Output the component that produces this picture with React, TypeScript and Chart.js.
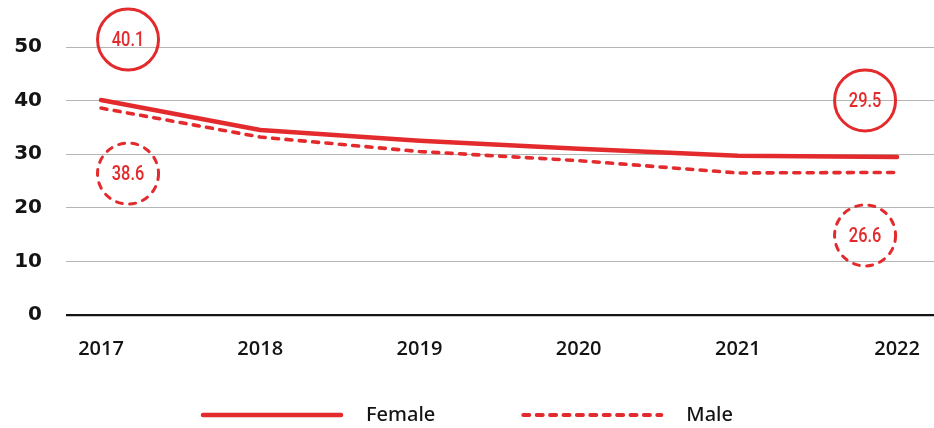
import React, { useEffect, useRef } from "react";
import { Chart, registerables } from "chart.js";

Chart.register(...registerables);

// Share of population (%), by sex
const years = [2017, 2018, 2019, 2020, 2021, 2022];
const femaleRates = [40.1, 34.5, 32.5, 31.0, 29.7, 29.5];
const maleRates = [38.6, 33.2, 30.5, 28.8, 26.5, 26.6];
const yTickValues = [0, 10, 20, 30, 40, 50];
const seriesNames = ["Female", "Male"];

const RED = "#e32b2d";
const INK = "#141414";
const GRID = "#b4b4b4";

const CIRCLE_FONT = "500 21px 'Roboto', 'Noto Sans', sans-serif";
const LEGEND_FONT = "500 20px 'Noto Sans', sans-serif";

// value bubbles next to the first and last point of each series
const bubblePlugin = {
  id: "endBubbles",
  afterDatasetsDraw(chart: any) {
    const ctx = chart.ctx as CanvasRenderingContext2D;
    chart.data.datasets.forEach((ds: any, i: number) => {
      const pts = chart.getDatasetMeta(i).data;
      const dashed = Array.isArray(ds.borderDash) && ds.borderDash.length > 0;
      const ends: [number, number, number][] = [
        [0, 27, dashed ? 65.5 : -60.5],
        [pts.length - 1, -32, dashed ? 63 : -56.5],
      ];
      ends.forEach(([idx, dx, dy]) => {
        const p = pts[idx];
        const cx = p.x + dx;
        const cy = p.y + dy;
        ctx.save();
        ctx.beginPath();
        ctx.arc(cx, cy, 30.5, 0, Math.PI * 2);
        ctx.lineWidth = 3;
        ctx.strokeStyle = RED;
        ctx.lineCap = "round";
        ctx.setLineDash(dashed ? [6, 7.4] : []);
        ctx.stroke();
        ctx.setLineDash([]);
        // condensed figures: narrow the glyphs horizontally
        ctx.translate(cx, cy + 1);
        ctx.scale(0.78, 1);
        ctx.fillStyle = RED;
        ctx.font = CIRCLE_FONT;
        ctx.textAlign = "center";
        ctx.textBaseline = "middle";
        ctx.fillText(Number(ds.data[idx].y).toFixed(1), 0, 0);
        ctx.restore();
      });
    });
  },
};

// legend drawn as long line swatches centred under the chart
const SWATCH = 142;
const SWATCH_GAP = 23;
const ITEM_GAP = 86;
const legendPlugin = {
  id: "lineLegend",
  afterDraw(chart: any) {
    const ctx = chart.ctx as CanvasRenderingContext2D;
    const y = 415;
    ctx.save();
    ctx.font = LEGEND_FONT;
    const items = chart.data.datasets.map((ds: any) => ({
      ds,
      w: ctx.measureText(ds.label).width,
    }));
    const total =
      items.reduce((s: number, it: any) => s + SWATCH + SWATCH_GAP + it.w, 0) +
      ITEM_GAP * (items.length - 1);
    let x = (chart.width - total) / 2;
    items.forEach((it: any) => {
      const ds = it.ds;
      ctx.beginPath();
      ctx.strokeStyle = ds.borderColor;
      ctx.lineWidth = ds.borderDash && ds.borderDash.length ? 4 : 4.5;
      ctx.lineCap = "round";
      ctx.setLineDash(ds.borderDash || []);
      ctx.moveTo(x + 2, y);
      ctx.lineTo(x + SWATCH - 2, y);
      ctx.stroke();
      ctx.setLineDash([]);
      ctx.fillStyle = INK;
      ctx.textAlign = "left";
      ctx.textBaseline = "middle";
      ctx.fillText(ds.label, x + SWATCH + SWATCH_GAP, y);
      x += SWATCH + SWATCH_GAP + it.w + ITEM_GAP;
    });
    ctx.restore();
  },
};

export default function App() {
  const canvasRef = useRef<HTMLCanvasElement | null>(null);

  useEffect(() => {
    if (!canvasRef.current) return;
    const toPoints = (vals: number[]) => years.map((yr, i) => ({ x: yr, y: vals[i] }));
    const chart = new Chart(canvasRef.current, {
      type: "line",
      data: {
        datasets: [
          {
            label: seriesNames[0],
            data: toPoints(femaleRates),
            borderColor: RED,
            borderWidth: 4.5,
            borderCapStyle: "round",
            borderJoinStyle: "round",
            pointRadius: 0,
            tension: 0,
          },
          {
            label: seriesNames[1],
            data: toPoints(maleRates),
            borderColor: RED,
            borderWidth: 3.6,
            borderDash: [6, 7.4],
            borderCapStyle: "round",
            borderJoinStyle: "round",
            pointRadius: 0,
            tension: 0,
          },
        ],
      },
      options: {
        responsive: false,
        animation: false,
        devicePixelRatio: 1,
        layout: { padding: { top: 47, left: 0, right: 0, bottom: 0 } },
        plugins: { legend: { display: false }, tooltip: { enabled: false } },
        scales: {
          x: {
            type: "linear",
            min: 2016.78,
            max: 2022.232,
            afterBuildTicks: (scale: any) => {
              scale.ticks = years.map((v) => ({ value: v }));
            },
            afterFit: (scale: any) => {
              scale.height = 113;
              scale.paddingLeft = 0;
              scale.paddingRight = 0;
            },
            grid: { display: false, drawTicks: false },
            border: { display: false },
            ticks: {
              autoSkip: false,
              maxRotation: 0,
              padding: 22,
              color: INK,
              font: { family: "'Open Sans', sans-serif", size: 20, weight: 600 },
              callback: (v: any) => String(v),
            },
          },
          y: {
            min: 0,
            max: 50,
            afterBuildTicks: (scale: any) => {
              scale.ticks = yTickValues.map((v) => ({ value: v }));
            },
            afterFit: (scale: any) => {
              scale.width = 66;
            },
            border: { display: false },
            grid: {
              drawTicks: false,
              color: (c: any) => (c.tick && c.tick.value === 0 ? INK : GRID),
              lineWidth: (c: any) => (c.tick && c.tick.value === 0 ? 2.2 : 1),
            },
            ticks: {
              padding: 24,
              color: INK,
              font: { family: "'DejaVu Sans', sans-serif", size: 20, weight: "bold" },
              callback: (v: any) => String(v),
            },
          },
        },
      },
      plugins: [bubblePlugin, legendPlugin],
    } as any);
    return () => chart.destroy();
  }, []);

  return (
    <div style={{ position: "fixed", left: 0, top: 0, width: 934, height: 428, background: "#fff" }}>
      <canvas ref={canvasRef} width={934} height={428} style={{ display: "block" }} />
    </div>
  );
}
